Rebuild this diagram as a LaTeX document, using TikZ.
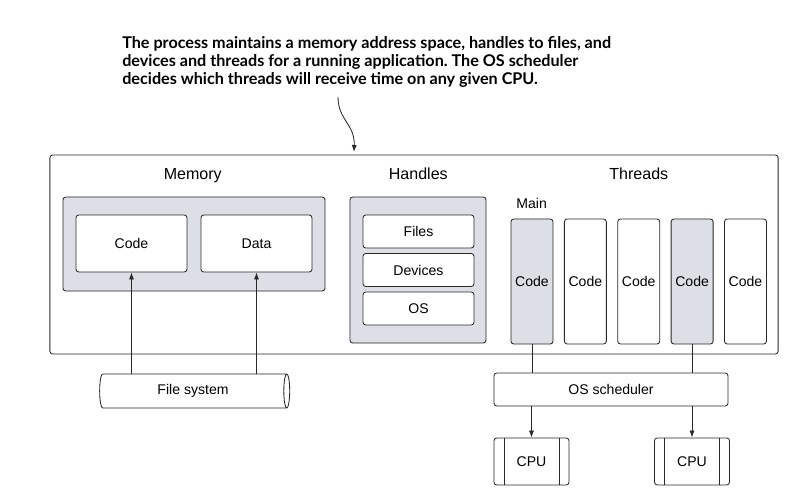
\documentclass[tikz,border=0pt]{standalone}
\usepackage{fontspec}
\setmainfont{Liberation Sans}
\newfontfamily\notefont{Lato}
\usetikzlibrary{shapes.geometric,arrows.meta}
\definecolor{boxgray}{RGB}{220,223,229}
\definecolor{linegray}{RGB}{40,40,40}
\frenchspacing
\begin{document}
\begin{tikzpicture}[x=0.025cm,y=-0.025cm]
\tikzstyle{bx} = [draw=linegray,line width=0.6pt,rounded corners=2pt,inner sep=0pt] %plain box
\tikzstyle{gbx} = [bx,fill=boxgray] %shaded box
\tikzstyle{wbx} = [bx,fill=white] %white box
\tikzstyle{hd} = [font=\fontsize{11.4}{13}\selectfont,anchor=base] %heading
\tikzstyle{lb} = [font=\fontsize{10}{12}\selectfont] %label
\tikzstyle{ln} = [line width=0.6pt,draw=linegray] %line
\tikzstyle{ar} = [ln,-{Latex[length=5pt,width=3.6pt]}] %arrow
\tikzstyle{cpu} = [wbx,lb,minimum width=1.875cm,minimum height=1.175cm,
  path picture={\draw[ln]([xshift=0.25cm]path picture bounding box.north west)--([xshift=0.25cm]path picture bounding box.south west);
  \draw[ln]([xshift=-0.25cm]path picture bounding box.north east)--([xshift=-0.25cm]path picture bounding box.south east);}] %processor
\path[fill=white](0,0)rectangle(810,502);
% note
\node[font=\notefont\bfseries\fontsize{11.5}{12.8}\selectfont,align=left,anchor=north west,inner sep=0pt](note)at(122,36.5){The process maintains a memory address space, handles to files, and\\devices and threads for a running application. The OS scheduler\\decides which threads will receive time on any given CPU.};
\coordinate(ns)at(338,97);
\coordinate(ne)at(354,152);
\draw[ar](ns)..controls(338,120)and(355,124)..(ne);
% process
\node[bx,minimum width=18.2cm,minimum height=4.975cm](proc)at(414,254.5){};
\node[hd](hmem)at(192.8,179.5){Memory};
\node[hd](hhnd)at(418.3,179.5){Handles};
\node[hd](hthr)at(638.8,179.5){Threads};
\node[lb,anchor=base](hmain)at(531.7,208){Main};
% memory
\node[gbx,minimum width=6.55cm,minimum height=2.35cm](mem)at(194,244){};
\node[wbx,lb,minimum width=2.775cm,minimum height=1.425cm](code)at(131.5,243.5){Code};
\node[wbx,lb,minimum width=2.775cm,minimum height=1.425cm](data)at(256.5,243.5){Data};
% handles
\node[gbx,minimum width=3.4cm,minimum height=3.65cm](hnd)at(418,270){};
\node[wbx,lb,minimum width=2.775cm,minimum height=0.825cm](files)at(418.5,231.5){Files};
\node[wbx,lb,minimum width=2.775cm,minimum height=0.825cm](dev)at(418.5,270){Devices};
\node[wbx,lb,minimum width=2.775cm,minimum height=0.825cm](os)at(418.5,308.5){OS};
% threads
\foreach \i/\f in {1/boxgray,2/white,3/white,4/boxgray,5/white}
  \node[bx,lb,fill=\f,minimum width=1.05cm,minimum height=3.125cm](t\i)at({532+53.375*(\i-1)},281.5){Code};
% outside
\node[cylinder,draw=linegray,line width=0.6pt,aspect=0.45,lb,inner sep=0pt,minimum width=0.85cm,minimum height=4.75cm](fs)at(193,391){File system};
\node[wbx,lb,minimum width=5.85cm,minimum height=0.825cm](sched)at(611,389.5){OS scheduler};
\node[cpu](cpu1)at(531.5,461.5){CPU};
\node[cpu](cpu2)at(692,461.5){CPU};
\draw[ar](code.south|-fs.north)--(code.south);
\draw[ar](data.south|-fs.north)--(data.south);
\draw[ln](t1.south)--(t1.south|-sched.north);
\draw[ln](t4.south)--(t4.south|-sched.north);
\draw[ar](sched.south-|cpu1.north)--(cpu1.north);
\draw[ar](sched.south-|cpu2.north)--(cpu2.north);
\end{tikzpicture}
\end{document}
